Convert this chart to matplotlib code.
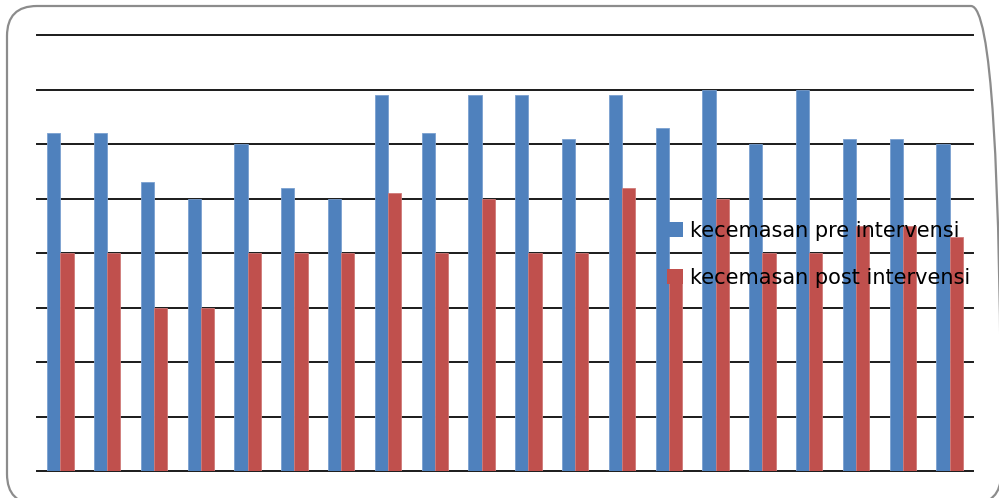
import matplotlib
matplotlib.use("Agg")
import matplotlib.pyplot as plt
from matplotlib.patches import FancyBboxPatch
from matplotlib.transforms import IdentityTransform
import numpy as np

respondents = list(range(1, 21))
pre_intervensi = [62, 62, 53, 50, 60, 52, 50, 69, 62, 69,
                  69, 61, 69, 63, 70, 60, 70, 61, 61, 60]
post_intervensi = [40, 40, 30, 30, 40, 40, 40, 51, 40, 50,
                   40, 40, 52, 36, 50, 40, 40, 45, 45, 43]
series_labels = ["kecemasan pre intervensi", "kecemasan post intervensi"]

fig = plt.figure(figsize=(9.99, 4.98), dpi=100)

# rounded chart-area border, in pixels (bottom/right run off the image)
frame = FancyBboxPatch((7, -6), 994, 498,
                       boxstyle="round,pad=0,rounding_size=30",
                       transform=IdentityTransform(), fill=False,
                       edgecolor="#8c8c8c", linewidth=1.6)
fig.patches.append(frame)

ax = fig.add_axes([37 / 999, 27 / 498, 936 / 999, 435.5 / 498])

x = np.arange(len(respondents))
w = 0.28
ax.bar(x - w / 2, pre_intervensi, w, color="#4F81BD", edgecolor="#7aa0d0",
       linewidth=0.6, label=series_labels[0], zorder=3)
ax.bar(x + w / 2, post_intervensi, w, color="#C0504D", edgecolor="#d07a78",
       linewidth=0.6, label=series_labels[1], zorder=3)

ax.set_xlim(-0.5, len(respondents) - 0.5)
ax.set_ylim(0, 80)
ax.set_yticks(range(0, 81, 10))
ax.yaxis.grid(True, color="#1a1a1a", linewidth=1.4)
for gl in ax.get_ygridlines():
    gl.set_clip_on(False)
ax.set_axisbelow(True)
ax.tick_params(left=False, bottom=False, labelleft=False, labelbottom=False)
for s in ax.spines.values():
    s.set_visible(False)

leg = ax.legend(loc="upper left", bbox_to_anchor=(667 / 999, 1 - 221 / 498),
                bbox_transform=fig.transFigure, frameon=False,
                fontsize=15, handlelength=0.75, handleheight=0.75,
                handletextpad=0.33, labelspacing=1.28, borderpad=0,
                borderaxespad=0)
leg.set_zorder(5)
for h in leg.legend_handles:
    h.set_edgecolor("none")

fig.savefig("out.png", dpi=100)
